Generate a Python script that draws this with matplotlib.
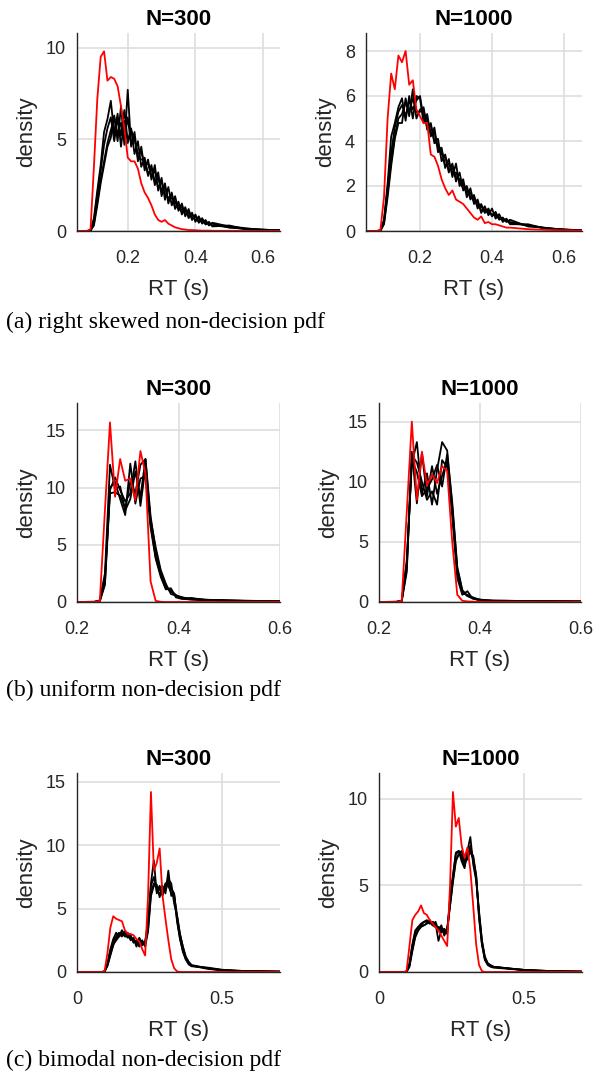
import matplotlib
matplotlib.use('Agg')
import matplotlib.pyplot as plt

# ---- data ----
# (a) right skewed
x_a = [0.05, 0.08, 0.09, 0.10, 0.11, 0.12, 0.13, 0.14, 0.15, 0.16, 0.17, 0.18, 0.19, 0.20,
       0.21, 0.22, 0.23, 0.24, 0.25, 0.26, 0.27, 0.28, 0.29, 0.30, 0.31, 0.32, 0.33, 0.34,
       0.35, 0.36, 0.37, 0.38, 0.39, 0.40, 0.41, 0.42, 0.43, 0.44, 0.45, 0.50, 0.55, 0.60, 0.65]

red_a300 = [0, 0, 0.1, 3.5, 7.2, 9.5, 9.8, 8.2, 8.4, 8.3, 7.9, 6.8, 5.6, 4.0, 3.8, 3.8, 3.4, 2.6,
            2.1, 1.8, 1.4, 0.9, 0.6, 0.5, 0.6, 0.4, 0.3, 0.2, 0.15, 0.1, 0.08, 0.05, 0.05, 0.04,
            0.03, 0.02, 0.02, 0.02, 0.01, 0.01, 0, 0, 0]
black_a300 = [
    [0, 0, 0.05, 0.7, 2.2, 3.6, 5.4, 6.1, 7.1, 5.3, 6.4, 4.6, 6.0, 4.9, 5.6, 4.2, 4.9, 3.5, 4.0,
     3.0, 3.6, 2.5, 3.2, 1.9, 2.6, 1.5, 2.1, 1.2, 1.6, 0.9, 1.3, 0.7, 1.0, 0.5, 0.8, 0.4, 0.6,
     0.3, 0.45, 0.25, 0.15, 0.05, 0.03],
    [0, 0, 0.02, 0.3, 1.4, 2.6, 3.6, 4.6, 5.1, 6.3, 4.9, 6.8, 4.7, 7.7, 4.6, 5.4, 3.8, 4.6, 3.3,
     3.9, 2.8, 3.6, 2.2, 2.9, 1.7, 2.4, 1.4, 1.9, 1.1, 1.5, 0.8, 1.2, 0.6, 0.9, 0.45, 0.7, 0.35,
     0.5, 0.25, 0.3, 0.1, 0.08, 0.02],
    [0, 0, 0.03, 0.5, 2.0, 3.3, 4.7, 5.6, 6.2, 4.9, 6.1, 5.2, 6.6, 4.8, 5.5, 5.0, 4.2, 4.3, 3.6,
     3.7, 3.0, 3.3, 2.3, 2.7, 2.0, 1.8, 2.0, 1.3, 1.4, 1.1, 1.1, 0.8, 0.9, 0.6, 0.7, 0.45, 0.5,
     0.35, 0.4, 0.18, 0.12, 0.07, 0.04],
    [0, 0, 0.04, 0.4, 1.6, 2.8, 3.8, 4.8, 5.5, 6.2, 5.3, 5.9, 5.1, 6.2, 4.7, 5.1, 4.0, 3.9, 3.9,
     3.1, 3.4, 2.7, 2.9, 2.2, 2.4, 1.7, 1.8, 1.6, 1.2, 1.3, 0.9, 1.0, 0.7, 0.8, 0.5, 0.6, 0.4,
     0.45, 0.3, 0.22, 0.1, 0.06, 0.03],
]

red_a1000 = [0, 0, 0.05, 1.5, 5.0, 7.0, 6.3, 7.8, 7.5, 8.0, 6.5, 6.7, 5.4, 5.1, 4.8, 4.8, 3.4, 3.3,
             2.9, 2.3, 1.9, 1.6, 1.8, 1.4, 1.3, 1.2, 1.0, 0.8, 0.6, 0.5, 0.65, 0.35, 0.4, 0.3, 0.3,
             0.25, 0.2, 0.15, 0.15, 0.08, 0.05, 0.03, 0.02]
black_a1000 = [
    [0, 0, 0.02, 0.5, 2.1, 4.2, 4.8, 5.5, 5.9, 4.9, 6.0, 5.0, 6.0, 5.9, 4.8, 5.2, 4.2, 4.6, 3.5,
     3.7, 2.8, 3.2, 2.4, 3.0, 2.0, 2.3, 1.5, 1.9, 1.2, 1.4, 0.8, 1.1, 0.7, 1.0, 0.55, 0.75, 0.4,
     0.55, 0.3, 0.3, 0.1, 0.07, 0.03],
    [0, 0, 0.01, 0.3, 1.5, 2.9, 4.1, 4.8, 4.8, 5.9, 5.1, 6.3, 5.0, 5.4, 5.5, 4.5, 4.8, 3.9, 4.1,
     3.1, 3.4, 2.6, 3.0, 2.2, 2.6, 1.8, 2.0, 1.4, 1.6, 1.0, 1.2, 0.8, 1.0, 0.65, 0.85, 0.5, 0.6,
     0.4, 0.5, 0.2, 0.14, 0.05, 0.03],
    [0, 0, 0.03, 0.45, 1.9, 3.5, 4.6, 5.3, 5.6, 5.1, 5.8, 5.4, 5.8, 6.0, 5.0, 5.0, 4.3, 4.4, 3.7,
     3.4, 3.3, 2.7, 2.8, 2.4, 2.3, 2.1, 1.7, 1.7, 1.3, 1.3, 0.9, 0.95, 0.8, 0.75, 0.7, 0.55, 0.5,
     0.45, 0.4, 0.25, 0.12, 0.06, 0.02],
    [0, 0, 0.02, 0.35, 1.7, 3.1, 4.2, 5.0, 5.2, 5.7, 5.3, 5.9, 5.3, 5.3, 5.4, 4.6, 4.7, 4.0, 3.8,
     3.6, 2.9, 3.0, 2.6, 2.6, 2.2, 1.9, 1.9, 1.5, 1.5, 1.1, 1.1, 0.85, 0.9, 0.7, 0.75, 0.6, 0.5,
     0.5, 0.35, 0.25, 0.13, 0.06, 0.03],
]

# (b) uniform
x_b = [0.20, 0.235, 0.245, 0.255, 0.265, 0.275, 0.285, 0.295, 0.305, 0.315, 0.325, 0.335, 0.345,
       0.355, 0.365, 0.375, 0.385, 0.395, 0.405, 0.415, 0.425, 0.45, 0.50, 0.55, 0.60]

red_b300 = [0, 0, 0.1, 8.0, 15.7, 9.2, 12.5, 10.6, 10.8, 8.9, 13.2, 11.2, 1.8, 0.1, 0.02,
            0, 0, 0, 0, 0, 0, 0, 0, 0, 0]
black_b300 = [
    [0, 0.02, 0.15, 2.5, 12.0, 9.9, 10.1, 8.0, 9.0, 11.4, 9.2, 12.5, 7.5, 4.5, 2.6, 1.4, 0.9, 0.6,
     0.4, 0.35, 0.3, 0.2, 0.12, 0.08, 0.05],
    [0, 0.01, 0.08, 1.5, 10.0, 10.5, 9.0, 7.6, 12.1, 8.6, 10.8, 11.0, 6.5, 3.8, 2.2, 1.1, 1.2, 0.4,
     0.3, 0.25, 0.2, 0.15, 0.1, 0.06, 0.04],
    [0, 0.02, 0.12, 2.0, 9.8, 10.9, 9.8, 8.8, 9.5, 12.3, 8.4, 11.8, 7.2, 4.8, 2.8, 1.6, 0.7, 0.55,
     0.45, 0.3, 0.35, 0.2, 0.15, 0.1, 0.05],
    [0, 0.01, 0.1, 1.6, 9.5, 9.6, 9.3, 8.2, 10.5, 9.5, 12.0, 12.5, 6.8, 3.9, 2.4, 1.2, 1.0, 0.6,
     0.3, 0.25, 0.3, 0.2, 0.12, 0.08, 0.05],
]

red_b1000 = [0, 0, 0.1, 7.5, 15.0, 8.5, 12.5, 9.7, 10.6, 9.9, 11.3, 10.9, 5.0, 0.6, 0.1,
             0.05, 0.03, 0.02, 0.02, 0.01, 0.01, 0.01, 0, 0, 0]
black_b1000 = [
    [0, 0.02, 0.12, 3.5, 11.5, 13.3, 9.0, 10.7, 8.1, 11.0, 13.3, 12.6, 8.0, 2.8, 0.9, 0.5, 0.3,
     0.2, 0.15, 0.12, 0.1, 0.1, 0.08, 0.05, 0.04],
    [0, 0.01, 0.08, 2.5, 12.5, 8.2, 12.4, 8.8, 11.3, 9.0, 10.5, 11.8, 7.2, 2.0, 0.6, 0.9, 0.3,
     0.2, 0.12, 0.1, 0.1, 0.08, 0.06, 0.05, 0.03],
    [0, 0.02, 0.1, 3.2, 11.8, 10.8, 8.8, 9.4, 10.2, 11.4, 9.6, 12.3, 8.3, 2.9, 1.0, 0.5, 0.4,
     0.25, 0.18, 0.15, 0.12, 0.1, 0.08, 0.05, 0.04],
    [0, 0.01, 0.1, 2.8, 12.2, 11.6, 10.0, 8.5, 9.2, 8.1, 11.8, 11.2, 7.6, 2.4, 0.7, 0.6, 0.35,
     0.2, 0.15, 0.12, 0.1, 0.1, 0.07, 0.05, 0.04],
]

# (c) bimodal
x_c = [0, 0.085, 0.095, 0.105, 0.115, 0.125, 0.135, 0.145, 0.155, 0.165, 0.175, 0.185, 0.195,
       0.205, 0.215, 0.225, 0.235, 0.245, 0.255, 0.265, 0.275, 0.285, 0.295, 0.305, 0.315,
       0.325, 0.335, 0.345, 0.355, 0.365, 0.375, 0.385, 0.395, 0.45, 0.50, 0.55, 0.60, 0.65, 0.70]

red_c300 = [0, 0, 0.05, 1.5, 3.5, 4.4, 4.2, 4.1, 4.0, 3.3, 3.0, 3.0, 2.9, 2.6, 2.4, 1.8, 1.3,
            6.0, 14.2, 8.0, 8.6, 9.75, 6.0, 4.2, 2.5, 1.0, 0.3, 0.05,
            0, 0, 0, 0, 0, 0, 0, 0, 0, 0, 0]
black_c300 = [
    [0, 0, 0.04, 0.7, 1.8, 2.6, 3.1, 2.8, 3.3, 2.9, 3.0, 2.5, 2.7, 2.0, 2.6, 2.1, 2.4, 4.0, 7.0,
     8.8, 6.2, 6.6, 6.0, 7.0, 6.8, 6.2, 6.0, 4.5, 3.0, 2.0, 1.2, 0.8, 0.5, 0.3, 0.15, 0.1, 0.06,
     0.04, 0.03],
    [0, 0, 0.03, 0.5, 1.3, 2.1, 2.6, 3.0, 2.8, 3.2, 2.7, 2.9, 2.3, 2.5, 2.2, 2.5, 2.0, 3.2, 6.0,
     6.8, 6.9, 5.9, 6.8, 6.2, 8.0, 6.0, 6.1, 4.0, 2.6, 1.7, 1.0, 0.6, 0.45, 0.35, 0.18, 0.1, 0.07,
     0.05, 0.03],
    [0, 0, 0.05, 0.6, 1.6, 2.4, 2.8, 3.1, 2.9, 3.0, 3.1, 2.6, 2.6, 2.2, 2.7, 2.2, 2.3, 3.8, 6.8,
     7.5, 6.4, 6.8, 6.2, 6.9, 7.3, 7.0, 5.4, 4.4, 3.0, 2.0, 1.2, 0.8, 0.55, 0.3, 0.15, 0.1, 0.06,
     0.04, 0.03],
    [0, 0, 0.04, 0.5, 1.4, 2.2, 2.5, 2.8, 3.1, 2.8, 2.8, 2.8, 2.4, 2.4, 2.0, 2.4, 2.2, 3.4, 6.2,
     7.0, 6.6, 6.1, 6.6, 6.4, 7.1, 6.6, 6.2, 4.1, 2.7, 1.6, 1.0, 0.7, 0.5, 0.25, 0.12, 0.08, 0.05,
     0.03, 0.02],
]

red_c1000 = [0, 0, 0.05, 1.5, 3.0, 3.3, 3.5, 3.85, 3.4, 3.3, 3.0, 2.8, 2.6, 2.4, 2.1, 1.8, 1.5,
             5.0, 10.4, 8.4, 8.9, 7.3, 6.6, 7.2, 5.9, 3.8, 1.6, 0.4, 0.05,
             0, 0, 0, 0, 0, 0, 0, 0, 0, 0]
black_c1000 = [
    [0, 0, 0.02, 0.5, 1.6, 2.4, 2.6, 2.8, 2.9, 3.0, 2.8, 2.9, 2.6, 2.6, 2.3, 2.4, 2.2, 4.3, 5.6,
     6.9, 7.0, 6.4, 6.0, 7.0, 7.8, 6.2, 5.3, 3.5, 1.8, 0.9, 0.5, 0.4, 0.3, 0.2, 0.12, 0.08, 0.05,
     0.03, 0.02],
    [0, 0, 0.01, 0.3, 1.2, 2.0, 2.4, 2.6, 2.7, 2.8, 3.0, 2.7, 2.9, 2.4, 2.7, 2.1, 2.5, 3.8, 5.2,
     6.4, 6.8, 7.0, 6.4, 6.5, 7.0, 6.7, 5.6, 3.1, 1.6, 0.7, 0.4, 0.3, 0.25, 0.18, 0.1, 0.07, 0.04,
     0.03, 0.02],
    [0, 0, 0.02, 0.45, 1.5, 2.3, 2.6, 2.7, 2.9, 2.9, 2.8, 2.9, 2.8, 1.8, 2.4, 2.5, 2.3, 4.1, 5.5,
     6.8, 7.0, 6.6, 6.1, 6.9, 6.9, 6.6, 5.4, 3.4, 1.8, 0.8, 0.5, 0.35, 0.3, 0.2, 0.12, 0.08, 0.05,
     0.03, 0.02],
    [0, 0, 0.02, 0.35, 1.3, 2.1, 2.4, 2.7, 2.7, 2.8, 2.9, 2.7, 2.6, 2.6, 2.5, 2.3, 2.4, 3.9, 5.3,
     6.5, 6.8, 6.8, 6.3, 6.6, 7.3, 6.4, 5.6, 3.2, 1.6, 0.75, 0.45, 0.35, 0.3, 0.2, 0.12, 0.08,
     0.05, 0.03, 0.02],
]

titles = ['N=300', 'N=1000']
captions = ['(a) right skewed non-decision pdf',
            '(b) uniform non-decision pdf',
            '(c) bimodal non-decision pdf']

# ---- layout ----
W, H = 606, 1078
fig = plt.figure(figsize=(W / 100, H / 100), dpi=100)

# pixel boxes: left, top, right, bottom
boxes = [(77, 33, 280, 231), (366, 33, 582, 231),
         (77, 403, 280, 602), (379, 403, 581, 602),
         (77, 773, 280, 972), (379, 773, 582, 972)]

panels = [
    (x_a, red_a300, black_a300, (0.05, 0.65), 10.8, [0.2, 0.4, 0.6], ['0.2', '0.4', '0.6'], [0, 5, 10]),
    (x_a, red_a1000, black_a1000, (0.05, 0.65), 8.8, [0.2, 0.4, 0.6], ['0.2', '0.4', '0.6'], [0, 2, 4, 6, 8]),
    (x_b, red_b300, black_b300, (0.2, 0.6), 17.4, [0.2, 0.4, 0.6], ['0.2', '0.4', '0.6'], [0, 5, 10, 15]),
    (x_b, red_b1000, black_b1000, (0.2, 0.6), 16.55, [0.2, 0.4, 0.6], ['0.2', '0.4', '0.6'], [0, 5, 10, 15]),
    (x_c, red_c300, black_c300, (0, 0.7), 15.7, [0, 0.5], ['0', '0.5'], [0, 5, 10, 15]),
    (x_c, red_c1000, black_c1000, (0, 0.7), 11.5, [0, 0.5], ['0', '0.5'], [0, 5, 10]),
]

txt = '#262626'
sans = 'Liberation Sans'

for i, (xs, red, blacks, xlim, ytop, xt, xtl, yt) in enumerate(panels):
    l, t, r, b = boxes[i]
    ax = fig.add_axes([l / W, 1 - b / H, (r - l) / W, (b - t) / H])
    for yk in blacks:
        ax.plot(xs, yk, color='black', lw=1.3)
    ax.plot(xs, red, color='red', lw=1.3)
    ax.set_xlim(*xlim)
    ax.set_ylim(0, ytop)
    ax.set_xticks(xt)
    ax.set_xticklabels(xtl)
    ax.set_yticks(yt)
    ax.grid(True, color='#dedede', lw=1.2)
    ax.set_axisbelow(True)
    for s in ['top', 'right']:
        ax.spines[s].set_visible(False)
    for s in ['left', 'bottom']:
        ax.spines[s].set_color(txt)
        ax.spines[s].set_linewidth(1.0)
    ax.tick_params(length=0, labelsize=13, labelcolor=txt)
    ax.tick_params(axis='y', pad=8)
    ax.tick_params(axis='x', pad=14)
    for lab in ax.get_xticklabels() + ax.get_yticklabels():
        lab.set_family(sans)
    ax.set_xlabel('RT (s)', fontsize=16, color=txt, family=sans, labelpad=8)
    ax.set_ylabel('density', fontsize=16, color=txt, family=sans, labelpad=6)
    ax.set_title(titles[i % 2], fontsize=16, fontweight='bold', family=sans, pad=6)

cap_y = [322, 690, 1060]
for c, y in zip(captions, cap_y):
    fig.text(6 / W, 1 - y / H, c, fontsize=17, family='Liberation Serif', va='center', ha='left')

fig.savefig('out.png', dpi=100)
